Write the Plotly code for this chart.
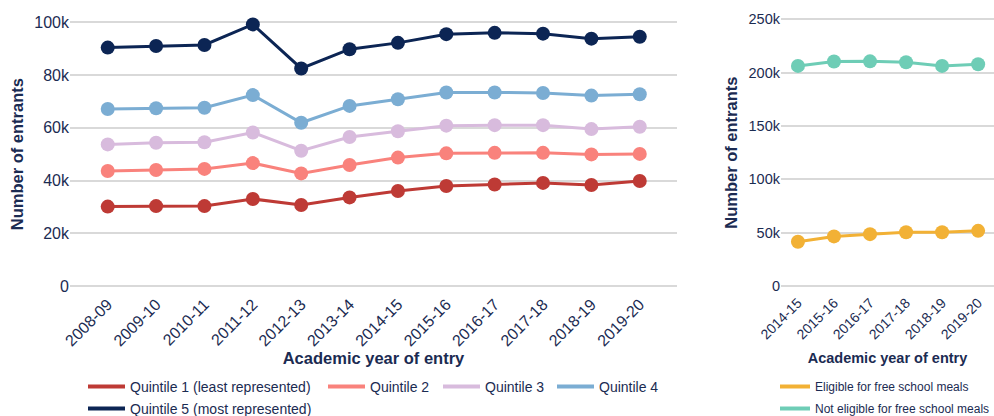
import plotly.graph_objects as go

# data
years = ["2008-09", "2009-10", "2010-11", "2011-12", "2012-13", "2013-14",
         "2014-15", "2015-16", "2016-17", "2017-18", "2018-19", "2019-20"]
q1 = [30100, 30300, 30300, 33000, 30700, 33600, 36000, 37900, 38500, 39100, 38300, 39800]
q2 = [43600, 44000, 44400, 46600, 42700, 45900, 48700, 50300, 50500, 50500, 49900, 50100]
q3 = [53700, 54300, 54500, 58200, 51300, 56500, 58700, 60800, 61000, 61000, 59500, 60400]
q4 = [67100, 67400, 67600, 72400, 61900, 68300, 70800, 73400, 73400, 73200, 72200, 72700]
q5 = [90400, 91000, 91400, 99200, 82500, 89800, 92200, 95500, 96000, 95700, 93800, 94500]

fsm_years = ["2014-15", "2015-16", "2016-17", "2017-18", "2018-19", "2019-20"]
eligible = [41500, 46500, 48600, 50400, 50400, 51700]
not_eligible = [206300, 210400, 210600, 209700, 206300, 207900]

quintile_names = ["Quintile 1 (least represented)", "Quintile 2", "Quintile 3",
                  "Quintile 4", "Quintile 5 (most represented)"]
quintile_colors = ["#be3a35", "#f9827c", "#d8bbdd", "#7badd3", "#0c2554"]
fsm_names = ["Eligible for free school meals", "Not eligible for free school meals"]
fsm_colors = ["#f2b135", "#6ecdb6"]

TEXT = "#1b2b52"
GRID = "#d9d9d9"
FONT = "Liberation Sans, Arial, sans-serif"
H = 416

# each quintile legend entry gets its own legend box so the spacing matches
quintile_legends = ["legend", "legend3", "legend4", "legend5", "legend6"]
quintile_legend_pos = [(83, 371), (323, 371), (438, 371), (552, 371), (83, 393)]

fig = go.Figure()

for name, vals, col, leg in zip(quintile_names, [q1, q2, q3, q4, q5], quintile_colors, quintile_legends):
    fig.add_trace(go.Scatter(
        x=years, y=vals, mode="lines+markers", name=name,
        line=dict(color=col, width=3), marker=dict(color=col, size=14),
        cliponaxis=False, showlegend=False, xaxis="x", yaxis="y"
    ))
    # line-only legend entry
    fig.add_trace(go.Scatter(
        x=[None], y=[None], mode="lines", name=name,
        line=dict(color=col, width=4), legend=leg, xaxis="x", yaxis="y"
    ))

for name, vals, col in zip(fsm_names, [eligible, not_eligible], fsm_colors):
    fig.add_trace(go.Scatter(
        x=fsm_years, y=vals, mode="lines+markers", name=name,
        line=dict(color=col, width=3), marker=dict(color=col, size=14),
        cliponaxis=False, showlegend=False, xaxis="x2", yaxis="y2"
    ))
    fig.add_trace(go.Scatter(
        x=[None], y=[None], mode="lines", name=name,
        line=dict(color=col, width=4), legendgroup=name,
        legend="legend2", xaxis="x2", yaxis="y2"
    ))

axis_common = dict(showline=False, zeroline=False, ticks="", automargin=False)

fig.update_layout(
    width=994, height=H,
    margin=dict(l=0, r=0, t=0, b=0, autoexpand=False),
    paper_bgcolor="white", plot_bgcolor="white",
    font=dict(family=FONT, color=TEXT),
    xaxis=dict(
        domain=[70 / 994, 677 / 994], type="category", range=[-0.78, 11.77],
        showgrid=False, tickangle=-45, ticklabelstandoff=4,
        tickfont=dict(size=16, color=TEXT),
        title=dict(text="<b>Academic year of entry</b>", font=dict(size=16.5, color=TEXT), standoff=4),
        **axis_common
    ),
    yaxis=dict(
        domain=[1 - 287.05 / H, 1 - 21.25 / H], range=[-400, 100400],
        tickvals=[0, 20000, 40000, 60000, 80000, 100000],
        ticktext=["0", "20k", "40k", "60k", "80k", "100k"],
        showgrid=True, gridcolor=GRID, gridwidth=1.5,
        tickfont=dict(size=16, color=TEXT),
        title=dict(text="<b>Number of entrants</b>", font=dict(size=16.5, color=TEXT), standoff=6),
        **axis_common
    ),
    xaxis2=dict(
        domain=[781 / 994, 1.0], type="category", range=[-0.47, 5.44],
        showgrid=False, tickangle=-45, anchor="y2", ticklabelstandoff=4,
        tickfont=dict(size=14, color=TEXT),
        title=dict(text="<b>Academic year of entry</b>", font=dict(size=14.5, color=TEXT), standoff=11),
        **axis_common
    ),
    yaxis2=dict(
        domain=[1 - 287.07 / H, 1 - 18.23 / H], range=[-1000, 251000], anchor="x2",
        tickvals=[0, 50000, 100000, 150000, 200000, 250000],
        ticktext=["0", "50k", "100k", "150k", "200k", "250k"],
        showgrid=True, gridcolor=GRID, gridwidth=1.5,
        tickfont=dict(size=14.5, color=TEXT),
        title=dict(text="<b>Number of entrants</b>", font=dict(size=16.5, color=TEXT), standoff=6),
        **axis_common
    ),
    legend2=dict(
        orientation="v", x=775 / 994, xanchor="left", y=1 - 372 / H, yanchor="top",
        font=dict(size=12, color=TEXT), bgcolor="rgba(0,0,0,0)", tracegroupgap=3
    ),
)

for leg, (lx, ly) in zip(quintile_legends, quintile_legend_pos):
    fig.update_layout({leg: dict(
        orientation="h", x=lx / 994, xanchor="left", y=1 - ly / H, yanchor="top",
        itemwidth=37, font=dict(size=14, color=TEXT), bgcolor="rgba(0,0,0,0)"
    )})

# drop the browser's default 8px body margin so the figure sits at the page origin
fig.write_html("out.html", config={"displayModeBar": False},
               post_script="document.body.style.margin='0px';")
